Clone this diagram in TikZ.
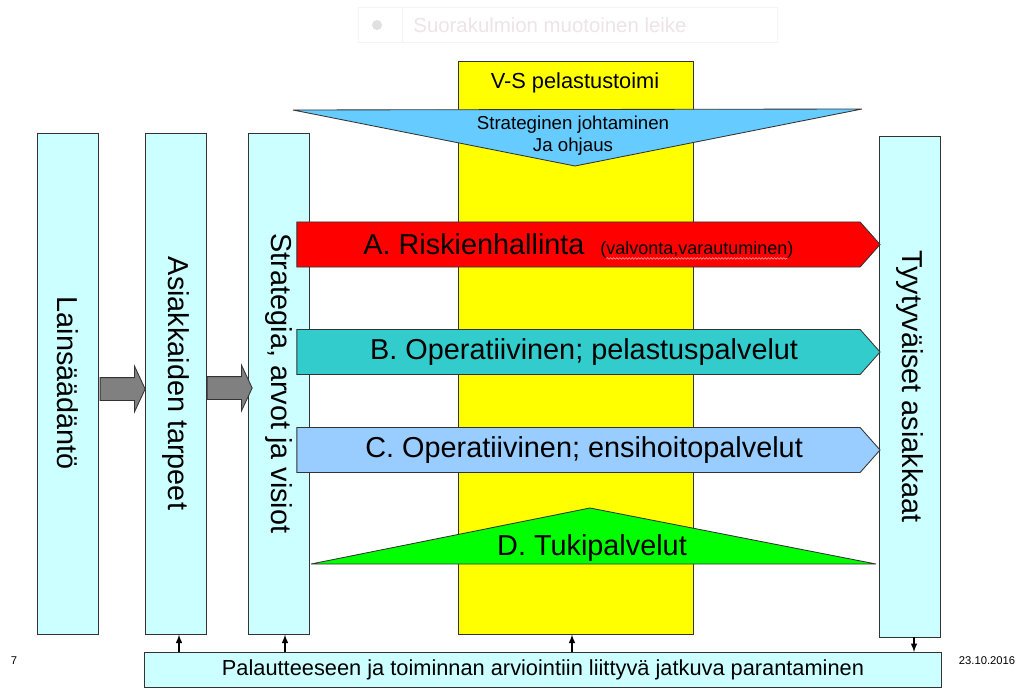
\documentclass[tikz,border=0pt]{standalone}
\usepackage{fontspec}
\setmainfont{Liberation Sans}
\usetikzlibrary{arrows}
\usetikzlibrary{shapes.arrows}
\usetikzlibrary{decorations.pathmorphing}
\usetikzlibrary{positioning}

\definecolor{boxcyan}{HTML}{CCFFFF}
\definecolor{vsyellow}{HTML}{FFFF00}
\definecolor{skyblue}{HTML}{66CCFF}
\definecolor{riskred}{HTML}{FF0000}
\definecolor{opteal}{HTML}{33CCCC}
\definecolor{oplight}{HTML}{99CCFF}
\definecolor{tukigreen}{HTML}{00FF00}
\definecolor{pushgray}{HTML}{808080}
\definecolor{ghostline}{HTML}{F4F4F8}
\definecolor{ghosttext}{HTML}{EEE4E8}
\definecolor{wavered}{HTML}{F4A0A0}

\tikzset{
    pillar/.style={draw=black!80,fill=boxcyan,rotate=-90,inner sep=0pt,
        minimum width=12.525cm,minimum height=1.525cm,font=\fontsize{20.5}{24}\selectfont},
    band/.style={single arrow,draw=black!80,inner sep=0pt,single arrow head extend=0pt,
        single arrow tip angle=97,minimum width=1.125cm,minimum height=14.575cm,
        font=\fontsize{20.5}{24}\selectfont},
    push/.style={single arrow,draw=black!80,fill=pushgray,inner sep=0pt,
        single arrow head extend=0.29cm,single arrow tip angle=130,
        minimum height=1.125cm},
    tiny/.style={font=\fontsize{8}{9}\selectfont}
}

\begin{document}
\begin{tikzpicture}[x=0.025cm,y=-0.025cm,line width=0.6pt]
        \useasboundingbox (0,0) rectangle (1024,689);
        % faint clip box at the top
        \node [draw=ghostline,fill=white,minimum width=10.475cm,minimum height=0.875cm] (ghost) at (567.5,24.5) {};
        \draw [ghostline] (402,7) -- (402,42);
        \node [circle,fill=black!12,minimum size=0.25cm,inner sep=0pt] (dot) at (377,25) {};
        \node [text=ghosttext,font=\fontsize{14.5}{17}\selectfont] (ghosttxt) at (550,25) {Suorakulmion muotoinen leike};
        % yellow column
        \node [draw=black!80,fill=vsyellow,minimum width=5.875cm,minimum height=14.325cm] (vs) at (576,347.5) {};
        \node [font=\fontsize{15.5}{18}\selectfont] (vstitle) at (575,83) {V-S pelastustoimi};
        % pillars
        \node [pillar] (lain) at (67.5,383.5) {Lainsäädäntö};
        \node [pillar] (tarp) at (176,383.5) {Asiakkaiden tarpeet};
        \node [pillar] (strat) at (279,383.5) {Strategia, arvot ja visiot};
        \node [pillar] (tyyt) at (910,386.5) {Tyytyväiset asiakkaat};
        \node [push] (p1) at (120,389) {\rule{0pt}{0.55cm}};
        \node [push] (p2) at (227,388) {\rule{0pt}{0.55cm}};
        % strategic management
        \draw [draw=black!80,fill=skyblue] (293,110) -- (862,109) -- (575,166) -- cycle;
        \node [align=center,font=\fontsize{13.3}{15.6}\selectfont] (ohj) at (573,136) {Strateginen johtaminen\\Ja ohjaus};
        % services
        \node [band,fill=riskred] (a) at (578.5,244.5) {};
        \node [font=\fontsize{20.5}{24}\selectfont] (risk) at (474,244.5) {A. Riskienhallinta};
        \node [font=\fontsize{12.8}{15}\selectfont] (valv) [base right=4pt of risk] {(valvonta,varautuminen)};
        \draw [wavered,line width=0.4pt,decorate,decoration={snake,segment length=2.2pt,amplitude=0.6pt}]
            ([xshift=8pt,yshift=-2.6pt]valv.base west) -- ([xshift=-8pt,yshift=-2.6pt]valv.base east);
        \node [band,fill=opteal] (b) at (578.5,352) {\hspace{8pt}B. Operatiivinen; pelastuspalvelut};
        \node [band,fill=oplight] (c) at (578.5,450) {\hspace{8pt}C. Operatiivinen; ensihoitopalvelut};
        \draw [draw=black!80,fill=tukigreen] (311,564) -- (590,508) -- (876,564) -- cycle;
        \node [font=\fontsize{20.5}{24}\selectfont] (d) at (592,548) {D. Tukipalvelut};
        % feedback
        \node [draw=black!80,fill=boxcyan,minimum width=19.9cm,minimum height=0.875cm,
            font=\fontsize{15.5}{18}\selectfont] (fb) at (543,670) {Palautteeseen ja toiminnan arviointiin liittyvä jatkuva parantaminen};
        \coordinate (tarpfoot) at ([xshift=0.075cm]tarp.east);
        \coordinate (stratfoot) at ([xshift=0.15cm]strat.east);
        \coordinate (vsfoot) at ([xshift=-0.1cm]vs.south);
        \coordinate (tyytfoot) at ([xshift=0.1cm]tyyt.east);
        \path[-latex,line width=1.1pt]
            (fb.north -| tarpfoot) edge (tarpfoot)
            (fb.north -| stratfoot) edge (stratfoot)
            (fb.north -| vsfoot) edge (vsfoot)
            (tyytfoot) edge (fb.north -| tyytfoot);
        \node [tiny] (page) at (14,661) {7};
        \node [tiny] (date) at (987,661) {23.10.2016};
\end{tikzpicture}
\end{document}
